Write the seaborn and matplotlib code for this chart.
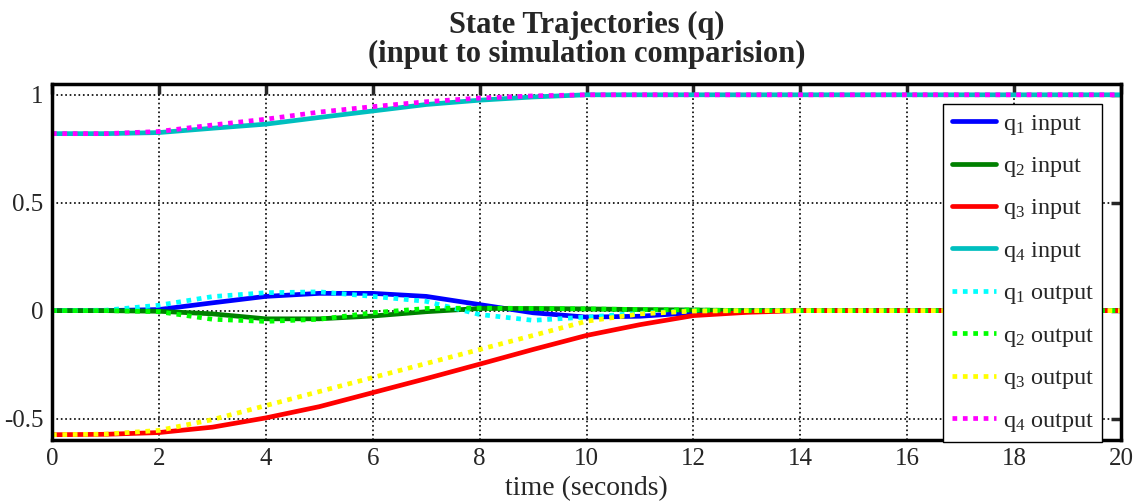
import numpy as np
import pandas as pd
import seaborn as sns
import matplotlib.pyplot as plt

# time grid (seconds) and readings
t = [0, 1, 2, 3, 4, 5, 6, 7, 8, 9, 10, 11, 12, 13, 14, 15, 16, 17, 18, 19, 20]

q1_in = [0, 0, 0.005, 0.036, 0.066, 0.08, 0.08, 0.066, 0.028, -0.01, -0.03, -0.026, -0.01, 0, 0, 0, 0, 0, 0, 0, 0]
q2_in = [0, 0, -0.003, -0.015, -0.038, -0.038, -0.025, -0.005, 0.01, 0.01, 0.008, 0.005, 0.003, 0, 0, 0, 0, 0, 0, 0, 0]
q3_in = [-0.575, -0.573, -0.565, -0.54, -0.497, -0.445, -0.38, -0.315, -0.248, -0.18, -0.115, -0.065, -0.023, -0.008, 0, 0, 0, 0, 0, 0, 0]
q4_in = [0.82, 0.82, 0.825, 0.845, 0.864, 0.895, 0.925, 0.955, 0.975, 0.99, 1.0, 1, 1, 1, 1, 1, 1, 1, 1, 1, 1]

q1_out = [0, 0.002, 0.025, 0.065, 0.083, 0.087, 0.066, 0.043, -0.018, -0.045, -0.03, -0.012, 0, 0, 0, 0, 0, 0, 0, 0, 0]
q2_out = [0, 0, -0.005, -0.04, -0.05, -0.04, -0.01, 0.01, 0.012, 0.01, 0.008, 0.005, 0.003, 0, 0, 0, 0, 0, 0, 0, 0]
q3_out = [-0.575, -0.572, -0.555, -0.505, -0.44, -0.375, -0.31, -0.245, -0.18, -0.115, -0.049, -0.015, -0.002, 0, 0, 0, 0, 0, 0, 0, 0]
q4_out = [0.82, 0.82, 0.83, 0.86, 0.887, 0.92, 0.945, 0.968, 0.985, 0.995, 1.0, 1, 1, 1, 1, 1, 1, 1, 1, 1, 1]

labels = [r"q$_1$ input", r"q$_2$ input", r"q$_3$ input", r"q$_4$ input",
          r"q$_1$ output", r"q$_2$ output", r"q$_3$ output", r"q$_4$ output"]
series = [q1_in, q2_in, q3_in, q4_in, q1_out, q2_out, q3_out, q4_out]
colors = ["#0000ff", "#008000", "#ff0000", "#00bfbf",
          "#00ffff", "#00ff00", "#ffff00", "#ff00ff"]

sns.set_style("white")
plt.rcParams['font.family'] = ['Liberation Serif', 'DejaVu Serif']
plt.rcParams['mathtext.fontset'] = 'custom'
plt.rcParams['mathtext.rm'] = 'Liberation Serif'
plt.rcParams['mathtext.it'] = 'Liberation Serif'

fig = plt.figure(figsize=(11.41, 5.03), dpi=100)
ax = fig.add_axes([0.0456, 0.125, 0.9369, 0.708])

for i, (lab, vals, col) in enumerate(zip(labels, series, colors)):
    df = pd.DataFrame({"t": t, "q": vals})
    sns.lineplot(data=df, x="t", y="q", color=col, lw=3.4, label=lab, ax=ax)
    line = ax.get_lines()[-1]
    if i >= 4:
        line.set_dashes((1, 1.2))
        line.set_dash_capstyle('butt')

ax.set_xlim(0, 20)
ax.set_ylim(-0.6, 1.05)
ax.set_xticks(np.arange(0, 21, 2))
ax.set_yticks([-0.5, 0, 0.5, 1])
ax.set_yticklabels(["-0.5", "0", "0.5", "1"])
ax.grid(True, color="black", linestyle=":", linewidth=1.2)
for s in ax.spines.values():
    s.set_linewidth(2.5)
    s.set_color("black")
ax.tick_params(direction="in", length=7, width=2.5, labelsize=18,
               top=True, right=True, pad=6)
ax.set_xlabel("time (seconds)", fontsize=20, labelpad=4)
ax.set_ylabel("")
ax.set_title("State Trajectories (q)\n(input to simulation comparision)",
             fontsize=22, fontweight="bold", pad=16, linespacing=0.98)

leg = ax.legend(loc="upper left", bbox_to_anchor=(943 / 1141, 1 - 104 / 503),
                bbox_transform=fig.transFigure, fontsize=17.5, fancybox=False,
                framealpha=1, edgecolor="black", handlelength=1.85,
                labelspacing=0.76, borderpad=0.35, handletextpad=0.25,
                borderaxespad=0)
leg.get_frame().set_linewidth(1)

fig.savefig("out.png", dpi=100)
